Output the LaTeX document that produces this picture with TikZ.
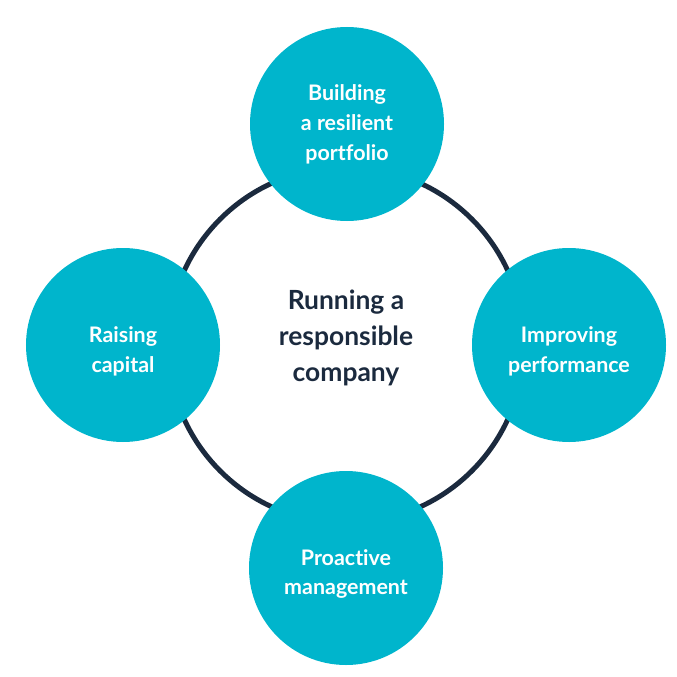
\documentclass[tikz,border=0pt]{standalone}
\usepackage{fontspec}
\setmainfont{Lato}[Ligatures=NoCommon]
\usepackage{xcolor}
\usetikzlibrary{positioning}

\definecolor{teal}{HTML}{00B5CC}
\definecolor{navy}{HTML}{1B2A3E}

\begin{document}
\begin{tikzpicture}[
  x=1bp,
  y=-1bp,
  ring/.style={
    circle,
    draw=navy,
    line width=5bp,
    minimum size=356bp
  },
  hub/.style={
    align=center,
    text=navy,
    font=\fontsize{26.5}{36}\selectfont\bfseries
  },
  pillar/.style={
    circle,
    fill=teal,
    minimum size=194bp
  },
  caption/.style={
    align=center,
    text=white,
    font=\fontsize{21.5}{30}\selectfont\bfseries
  }
]

  \useasboundingbox (0,0) rectangle (677,677);

  % Centre ring
  \node[ring] (ring) at (346,345) {};
  \node[hub] (hub) at (346,338) {Running a\\responsible\\company};

  % Four circles around the ring
  \node[pillar] (portfolio) at (347,124) {};
  \node[pillar] (capital) at (123,345) {};
  \node[pillar] (performance) at (569,345) {};
  \node[pillar] (management) at (346,568) {};

  % Circle texts
  \node[caption] at (portfolio) {Building\\a resilient\\portfolio};
  \node[caption] at ([yshift=-6bp]capital) {Raising\\capital};
  \node[caption] at ([yshift=-6bp]performance) {Improving\\performance};
  \node[caption] at ([yshift=-6bp]management) {Proactive\\management};

\end{tikzpicture}
\end{document}
